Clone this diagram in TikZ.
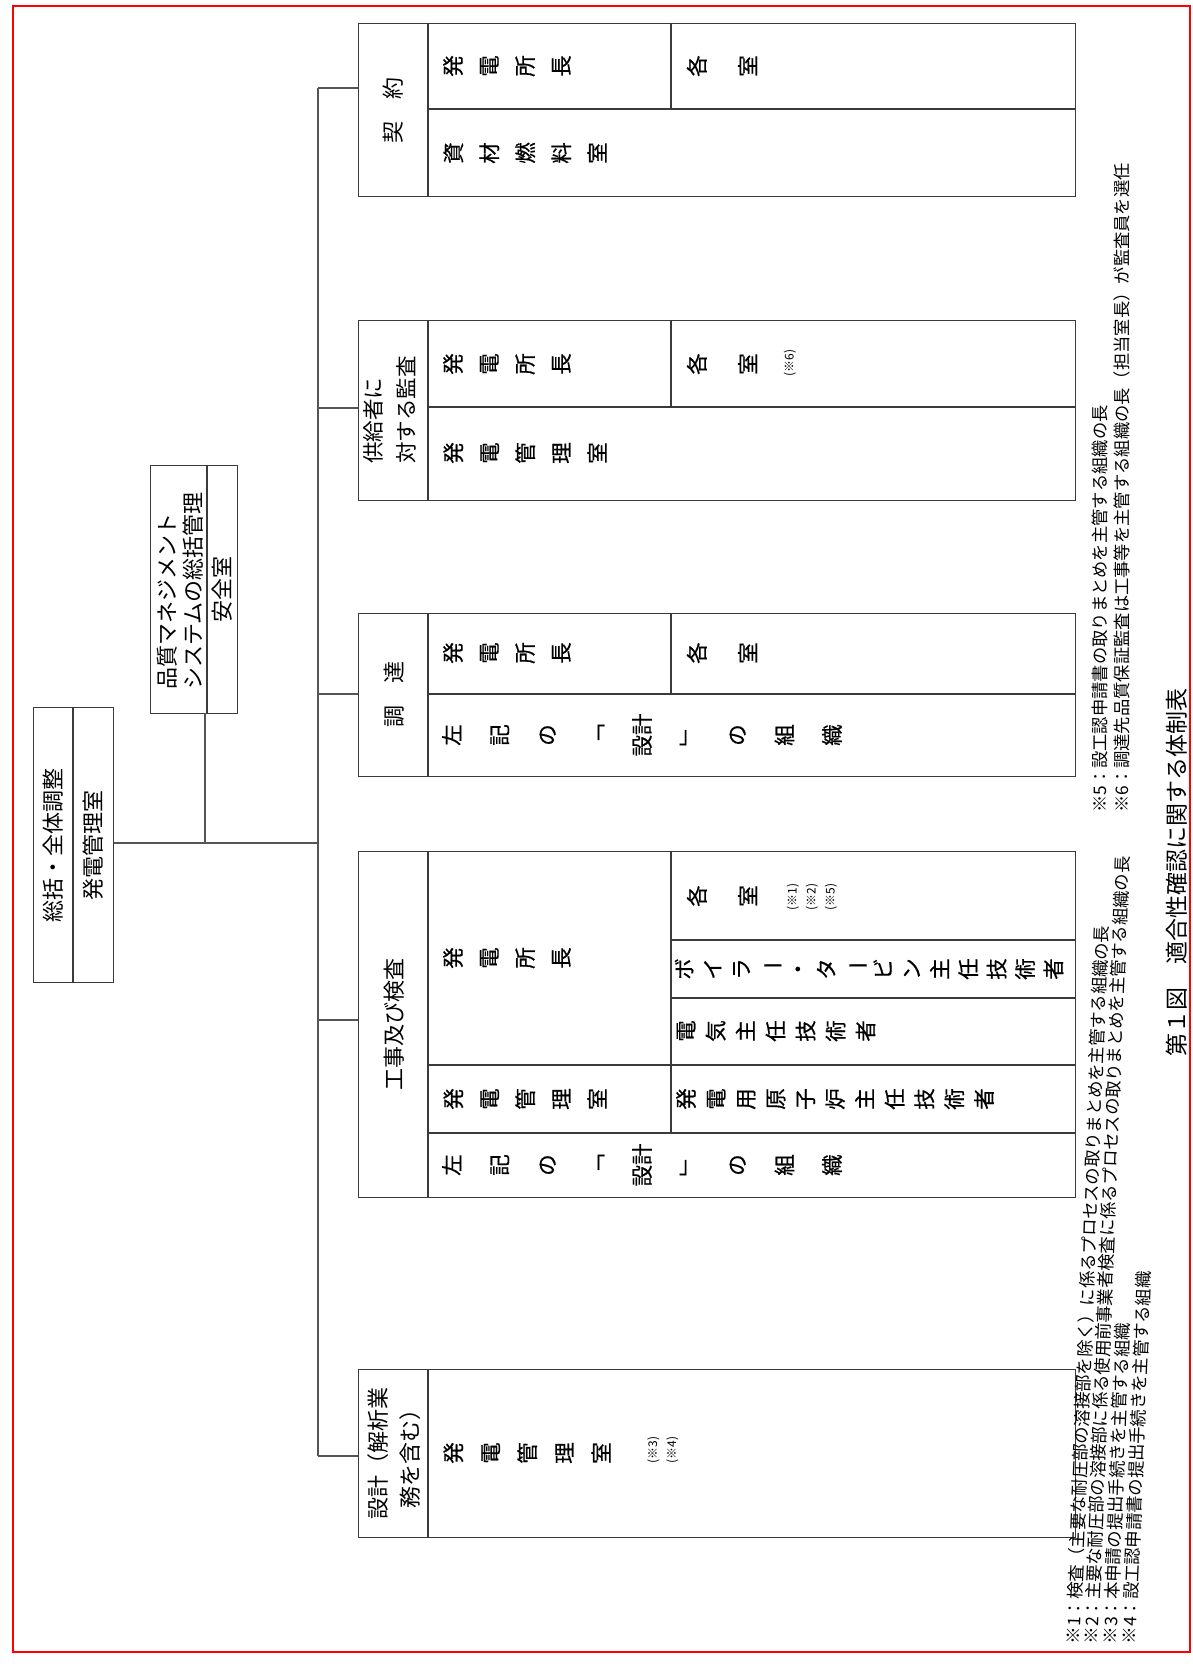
\documentclass[tikz,border=0pt]{standalone}
\usepackage{fontspec}
\newfontfamily\jp{Noto Sans CJK JP}
\newfontfamily\jpc[FakeBold=0.5]{Noto Sans CJK JP}
\newcommand\cho{\rotatebox[origin=c]{-90}{ー}}
\definecolor{boxc}{HTML}{3A3A3A}
\definecolor{linec}{HTML}{555555}
\begin{document}
\begin{tikzpicture}[x=1pt,y=-1pt,
  box/.style={draw=boxc,line width=1.1pt},
  frame/.style={box,anchor=north west,inner sep=0pt},
  cn/.style={draw=linec,line width=1.1pt},
  yoko/.style={rotate=90,inner sep=0pt,align=left,font=\jp\fontsize{22pt}{#1pt}\selectfont},
  yoko/.default=26,
  tate/.style={rotate=90,inner sep=0pt,align=center,font=\jpc\fontsize{21.5pt}{#1pt}\selectfont},
  tate/.default=36,
  note/.style={rotate=90,inner sep=0pt,align=left,font=\jp\fontsize{12pt}{19pt}\selectfont},
  foot/.style={rotate=#1,inner sep=0pt,anchor=west,font=\jp\fontsize{17.3pt}{17.3pt}\selectfont},
  foot/.default=90]
\useasboundingbox (0,0) rectangle (1192,1667);
\draw[red,line width=2.2pt] (13,6) rectangle (1190,1652);

% top boxes
\node[frame,minimum width=80pt,minimum height=275pt] (top) at (33,707) {};
\draw[box] (73,707) -- (73,982);
\node[yoko] (topA) at (53,845) {総括・全体調整};
\node[yoko] (topB) at (93,845) {発電管理室};

\node[frame,minimum width=87pt,minimum height=248pt] (qa) at (150,465) {};
\draw[box] (207,465) -- (207,713);
\node[yoko] (qaA) at (180,591) {品質マネジメント\\システムの総括管理};
\node[yoko] (qaB) at (222,589) {安全室};

% connectors
\coordinate (j0) at (318,843);
\coordinate (qaS) at (205,713);
\coordinate (qaJ) at (205,843);
\coordinate (t1) at (318,88);
\coordinate (t2) at (318,408);
\coordinate (t3) at (318,694);
\coordinate (t4) at (318,1020);
\coordinate (t5) at (318,1456);
\draw[cn] (top.east |- j0) -- (j0);
\draw[cn] (qaS) -- (qaJ);
\draw[cn] (t1) -- (t5);

% 契約
\node[frame,minimum width=717pt,minimum height=173pt] (c1) at (358,23) {};
\draw[box] (428,23) -- (428,196) (428,109) -- (1075,109) (671,23) -- (671,109);
\draw[cn] (t1) -- (c1.west |- t1);
\node[yoko] (c1h) at (393,110) {契　約};
\node[tate] (c1a) at (507,66) {発\\電\\所\\長};
\node[tate=51] (c1b) at (722,66) {各\\室};
\node[tate] (c1c) at (525,153) {資\\材\\燃\\料\\室};

% 供給者に対する監査
\node[frame,minimum width=717pt,minimum height=180pt] (c2) at (358,320) {};
\draw[box] (428,320) -- (428,500) (428,407) -- (1075,407) (671,320) -- (671,407);
\draw[cn] (t2) -- (c2.west |- t2);
\node[yoko=33,font=\jp\fontsize{21.5pt}{33pt}\selectfont] (c2h) at (390,410) {供給者に\\対する監査};
\node[tate] (c2a) at (507,364) {発\\電\\所\\長};
\node[tate=51] (c2b) at (722,364) {各\\室};
\node[note] (c2n) at (790,363) {(※6)};
\node[tate] (c2c) at (525,453) {発\\電\\管\\理\\室};

% 調達
\node[frame,minimum width=717pt,minimum height=163pt] (c3) at (358,613) {};
\draw[box] (428,613) -- (428,776) (428,694) -- (1075,694) (671,613) -- (671,694);
\draw[cn] (t3) -- (c3.west |- t3);
\node[yoko] (c3h) at (394,694) {調　達};
\node[tate] (c3a) at (507,653) {発\\電\\所\\長};
\node[tate=51] (c3b) at (722,653) {各\\室};
\node[tate=47.5] (c3c) at (642,735) {左\\記\\の\\﹁\\設計\\﹂\\の\\組\\織};

% 工事及び検査
\node[frame,minimum width=717pt,minimum height=346pt] (c4) at (358,851) {};
\draw[box] (428,851) -- (428,1197) (671,851) -- (671,1133)
  (671,940) -- (1075,940) (671,998) -- (1075,998)
  (428,1065) -- (1075,1065) (428,1133) -- (1075,1133);
\draw[cn] (t4) -- (c4.west |- t4);
\node[yoko] (c4h) at (394,1024) {工事及び検査};
\node[tate] (c4a) at (507,958) {発\\電\\所\\長};
\node[tate] (c4b) at (525,1099) {発\\電\\管\\理\\室};
\node[tate=51] (c4c) at (722,896) {各\\室};
\node[note] (c4n) at (812,897) {(※1)\\(※2)\\(※5)};
\node[tate=28.4] (c4d) at (869,969) {ボ\\イ\\ラ\\\cho\\・\\タ\\\cho\\ビ\\ン\\主\\任\\技\\術\\者};
\node[tate=30] (c4e) at (776,1031) {電\\気\\主\\任\\技\\術\\者};
\node[tate=29.8] (c4f) at (835,1099) {発\\電\\用\\原\\子\\炉\\主\\任\\技\\術\\者};
\node[tate=47.5] (c4g) at (642,1165) {左\\記\\の\\﹁\\設計\\﹂\\の\\組\\織};

% 設計
\node[frame,minimum width=717pt,minimum height=168pt] (c5) at (358,1369) {};
\draw[box] (428,1369) -- (428,1537);
\draw[cn] (t5) -- (c5.west |- t5);
\node[yoko=32,align=center] (c5h) at (394,1453) {設計（解析業\\務を含む）};
\node[tate=37] (c5a) at (527,1453) {発\\電\\管\\理\\室};
\node[note] (c5n) at (663,1450) {(※3)\\(※4)};

% footnotes
\node[foot=87.7] (f1) at (1073,1644) {※1：検査（主要な耐圧部の溶接部を除く）に係るプロセスの取りまとめを主管する組織の長};
\node[foot=87.7] (f2) at (1091,1644) {※2：主要な耐圧部の溶接部に係る使用前事業者検査に係るプロセスの取りまとめを主管する組織の長};
\node[foot=87.7] (f3) at (1110,1644) {※3：本申請の提出手続きを主管する組織};
\node[foot=87.7] (f4) at (1129,1644) {※4：設工認申請書の提出手続きを主管する組織};
\node[foot] (f5) at (1100,813) {※5：設工認申請書の取りまとめを主管する組織の長};
\node[foot] (f6) at (1122,813) {※6：調達先品質保証監査は工事等を主管する組織の長（担当室長）が監査員を選任};
\node[rotate=90,inner sep=0pt,font=\jp\fontsize{23pt}{23pt}\selectfont] (ttl) at (1177,872) {第１図　適合性確認に関する体制表};
\end{tikzpicture}
\end{document}
